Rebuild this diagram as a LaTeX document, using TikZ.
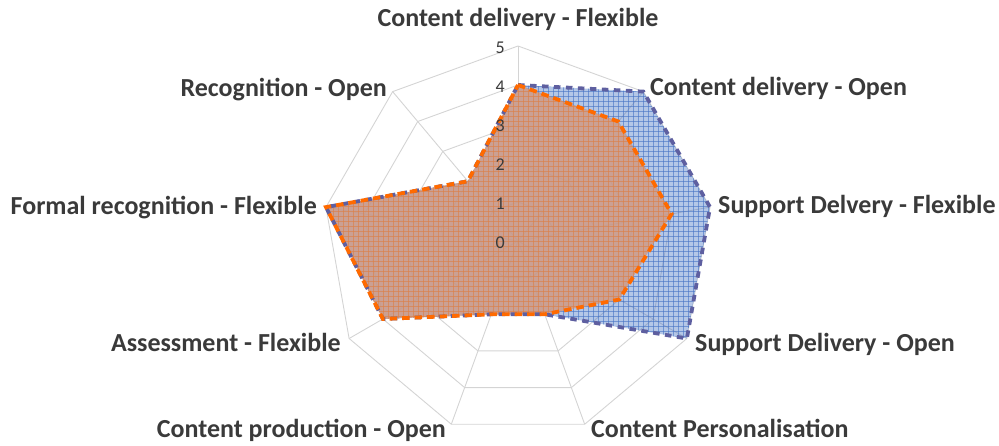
\documentclass[tikz,border=0pt]{standalone}
\usepackage{fontspec}
\setmainfont{Carlito}
\definecolor{labelgray}{HTML}{3A3A3A}
\definecolor{gridgray}{HTML}{D4D4D4}
\definecolor{serblue}{HTML}{4472C4}
\definecolor{serorange}{HTML}{ED7D31}
\definecolor{blueedge}{HTML}{5E5FA0}
\definecolor{orangeedge}{HTML}{FF6A00}
\definecolor{orangebg}{HTML}{CF9A84}
\begin{document}
\begin{tikzpicture}[x=1pt,y=1pt,
  axlabel/.style={font=\fontsize{26}{30}\selectfont\bfseries, text=labelgray, inner sep=0pt},
  ticklabel/.style={font=\fontsize{18}{22}\selectfont, text=labelgray, inner sep=0pt, anchor=base east},
  gridline/.style={draw=gridgray, line width=0.9pt},
  bluearea/.style={fill=serblue, fill opacity=0.4},
  orangearea/.style={fill=orangebg, fill opacity=0.85},
  bluehatch/.style={draw=serblue, line width=0.4pt, opacity=0.6},
  orangehatch/.style={draw=serorange, line width=0.4pt, opacity=0.45},
  blueborder/.style={draw=blueedge, line width=3.8pt, dash pattern=on 6.5pt off 5.5pt},
  orangeborder/.style={draw=orangeedge, line width=3.8pt, dash pattern=on 7.5pt off 5pt}
]
\useasboundingbox (0,0) rectangle (999,445);
\begin{scope}[shift={(518,204)}]
  % grid rings
  \foreach \r in {1,...,5}{
    \draw[gridline] (90:{39*\r}) \foreach \k in {1,...,8}{ -- ({90-40*\k}:{39*\r}) } -- cycle;
  }
  % spokes
  \foreach \k in {0,...,8}{
    \draw[gridline] (0,0) -- ({90-40*\k}:195);
  }
  % data points
  \foreach \v [count=\i from 0] in {4,5,5,5,2,2,4,5,2}{
    \coordinate (b\i) at ({90-40*\i}:{39*\v});
  }
  \foreach \v [count=\i from 0] in {4,4,4,3,2,2,4,5,2}{
    \coordinate (o\i) at ({90-40*\i}:{39*\v});
  }
  % blue series
  \fill[bluearea] (b0) -- (b1) -- (b2) -- (b3) -- (b4) -- (b5) -- (b6) -- (b7) -- (b8) -- cycle;
  \begin{scope}
    \clip (b0) -- (b1) -- (b2) -- (b3) -- (b4) -- (b5) -- (b6) -- (b7) -- (b8) -- cycle;
    \foreach \x in {-200,-195,...,200}{ \draw[bluehatch] (\x,-200) -- (\x,200); }
    \foreach \y in {-200,-195,...,200}{ \draw[bluehatch] (-200,\y) -- (200,\y); }
  \end{scope}
  % orange series
  \fill[orangearea] (o0) -- (o1) -- (o2) -- (o3) -- (o4) -- (o5) -- (o6) -- (o7) -- (o8) -- cycle;
  \begin{scope}
    \clip (o0) -- (o1) -- (o2) -- (o3) -- (o4) -- (o5) -- (o6) -- (o7) -- (o8) -- cycle;
    \foreach \x in {-200,-195,...,200}{ \draw[orangehatch] (\x,-200) -- (\x,200); }
    \foreach \y in {-200,-195,...,200}{ \draw[orangehatch] (-200,\y) -- (200,\y); }
  \end{scope}
  \draw[blueborder] (b0) -- (b1) -- (b2) -- (b3) -- (b4) -- (b5) -- (b6) -- (b7) -- (b8) -- cycle;
  \draw[orangeborder] (o0) -- (o1) -- (o2) -- (o3) -- (o4) -- (o5) -- (o6) -- (o7) -- (o8) -- cycle;
  % tick labels
  \foreach \v in {0,...,5}{
    \node[ticklabel] (t\v) at (-13,{39*\v-8}) {\v};
  }
\end{scope}
% axis labels
\node[axlabel, anchor=base] (l0) at (518,418) {Content delivery - Flexible};
\node[axlabel, anchor=base west] (l1) at (650,349) {Content delivery - Open};
\node[axlabel, anchor=base west] (l2) at (718,231) {Support Delvery - Flexible};
\node[axlabel, anchor=base west] (l3) at (695,94) {Support Delivery - Open};
\node[axlabel, anchor=base west] (l4) at (591,8) {Content Personalisation};
\node[axlabel, anchor=base east] (l5) at (446,8) {Content production - Open};
\node[axlabel, anchor=base east] (l6) at (341,94) {Assessment - Flexible};
\node[axlabel, anchor=base east] (l7) at (317,230) {Formal recognition - Flexible};
\node[axlabel, anchor=base east] (l8) at (387,348) {Recognition - Open};
\end{tikzpicture}
\end{document}
